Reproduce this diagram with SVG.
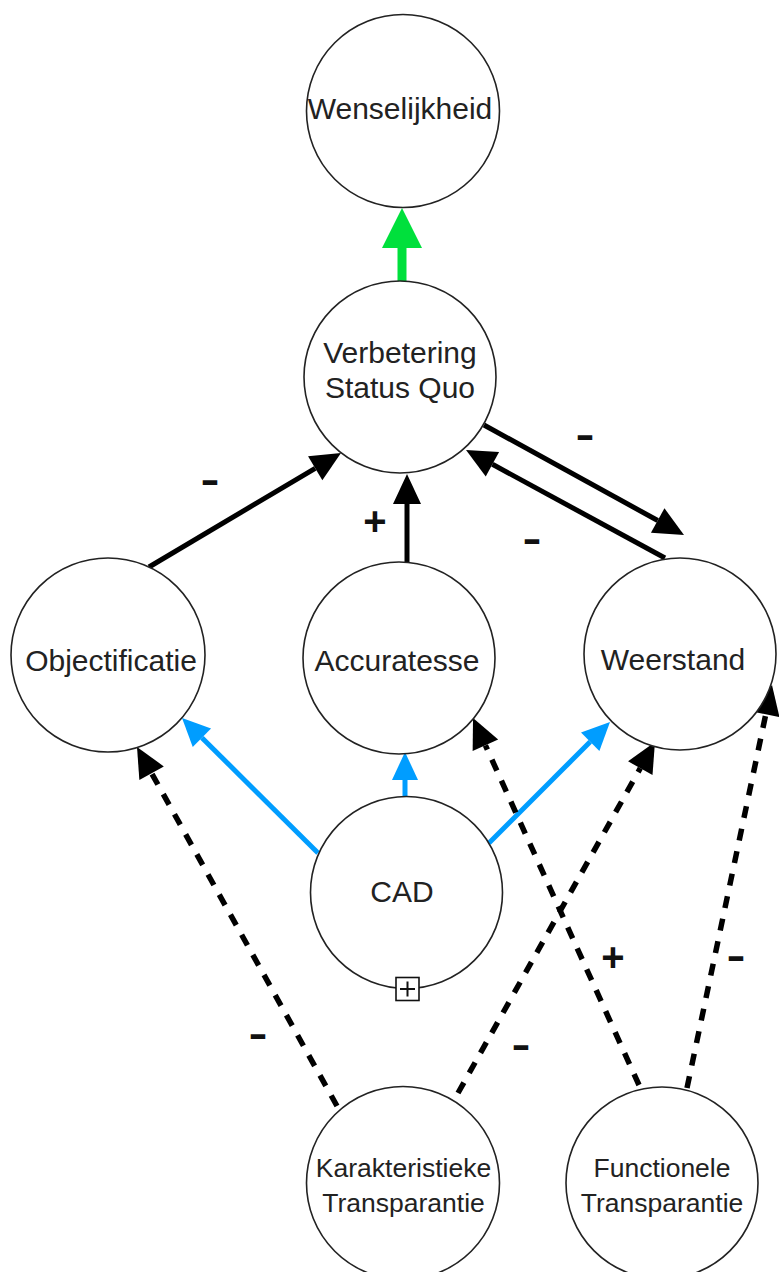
<svg xmlns="http://www.w3.org/2000/svg" width="779" height="1272" viewBox="0 0 779 1272">
<style>
.node{fill:#fff;stroke:#222;stroke-width:1.6}
.t{font-family:"Liberation Sans",Arial,sans-serif;font-size:30px;fill:#222;text-anchor:middle}
.ts{font-size:26.5px}
.lbl{font-family:"Liberation Sans",Arial,sans-serif;font-size:40px;font-weight:bold;fill:#111;text-anchor:middle}
.solid{stroke:#000;stroke-width:5;fill:none}
.dash{stroke:#000;stroke-width:5.5;fill:none;stroke-dasharray:12 11}
.blue{stroke:#009dff;stroke-width:5;fill:none}
.green{stroke:#00e03c;stroke-width:9;fill:none}
</style>
<defs>
<marker id="ab" markerUnits="userSpaceOnUse" markerWidth="32" markerHeight="30" refX="0" refY="14" orient="auto" overflow="visible"><path d="M0,0 L30,14 L0,28 z" fill="#000"/></marker>
<marker id="abl" markerUnits="userSpaceOnUse" markerWidth="30" markerHeight="28" refX="0" refY="13" orient="auto" overflow="visible"><path d="M0,0 L28,13 L0,26 z" fill="#009dff"/></marker>
<marker id="ag" markerUnits="userSpaceOnUse" markerWidth="42" markerHeight="42" refX="0" refY="20" orient="auto" overflow="visible"><path d="M0,0 L40,20 L0,40 z" fill="#00e03c"/></marker>
</defs>
<g id="connectors">
<path class="green" d="M402,282 L402,248" marker-end="url(#ag)"/>
<path class="solid" d="M149,567 L315.2,468.3" marker-end="url(#ab)"/>
<path class="solid" d="M407,562 L407,504" marker-end="url(#ab)"/>
<path class="solid" d="M484,425 L657.7,520.5" marker-end="url(#ab)"/>
<path class="solid" d="M665,558 L492.4,464.3" marker-end="url(#ab)"/>
<path class="blue" d="M318,853 L201.9,737.7" marker-end="url(#abl)"/>
<path class="blue" d="M405,797 L405,780" marker-end="url(#abl)"/>
<path class="blue" d="M489,843 L590.2,741.8" marker-end="url(#abl)"/>
<path class="dash" d="M337,1106 L151.6,773.2" marker-end="url(#ab)"/>
<path class="dash" d="M458,1093 L640.3,768.2" marker-end="url(#ab)"/>
<path class="dash" d="M639,1085 L485.4,745.3" marker-end="url(#ab)"/>
<path class="dash" d="M687,1088 L765.8,714.3" marker-end="url(#ab)"/>
</g>
<g id="labels">
<text class="lbl" x="585" y="448" textLength="19" lengthAdjust="spacingAndGlyphs">-</text>
<text class="lbl" x="210" y="493" textLength="19" lengthAdjust="spacingAndGlyphs">-</text>
<text class="lbl" x="375" y="535">+</text>
<text class="lbl" x="532" y="552" textLength="19" lengthAdjust="spacingAndGlyphs">-</text>
<text class="lbl" x="613" y="971">+</text>
<text class="lbl" x="736" y="969" textLength="19" lengthAdjust="spacingAndGlyphs">-</text>
<text class="lbl" x="258" y="1047" textLength="19" lengthAdjust="spacingAndGlyphs">-</text>
<text class="lbl" x="521" y="1058" textLength="19" lengthAdjust="spacingAndGlyphs">-</text>
</g>
<g id="wenselijkheid">
<circle class="node" cx="403" cy="111" r="96.5"/>
<text class="t" x="400" y="119">Wenselijkheid</text>
</g>
<g id="verbetering">
<circle class="node" cx="400" cy="377" r="96"/>
<text class="t" x="400" y="363">Verbetering</text>
<text class="t" x="400" y="398">Status Quo</text>
</g>
<g id="objectificatie">
<circle class="node" cx="108" cy="655" r="97"/>
<text class="t" x="111" y="671">Objectificatie</text>
</g>
<g id="accuratesse">
<circle class="node" cx="399" cy="658" r="96"/>
<text class="t" x="397" y="671">Accuratesse</text>
</g>
<g id="weerstand">
<circle class="node" cx="680" cy="654" r="96"/>
<text class="t" x="673" y="670">Weerstand</text>
</g>
<g id="cad">
<circle class="node" cx="406.5" cy="892.5" r="96"/>
<text class="t" x="402" y="902">CAD</text>
<rect x="396" y="977.5" width="23" height="23" fill="#fff" stroke="#111" stroke-width="1.6"/>
<path d="M400,989 L415,989 M407.5,981.5 L407.5,996.5" stroke="#111" stroke-width="2" fill="none"/>
</g>
<g id="karakteristieke">
<circle class="node" cx="403" cy="1183" r="96.5"/>
<text class="t ts" x="403.5" y="1177">Karakteristieke</text>
<text class="t ts" x="403.5" y="1212">Transparantie</text>
</g>
<g id="functionele">
<circle class="node" cx="662" cy="1183" r="96"/>
<text class="t ts" x="662" y="1177">Functionele</text>
<text class="t ts" x="662" y="1212">Transparantie</text>
</g>
</svg>
